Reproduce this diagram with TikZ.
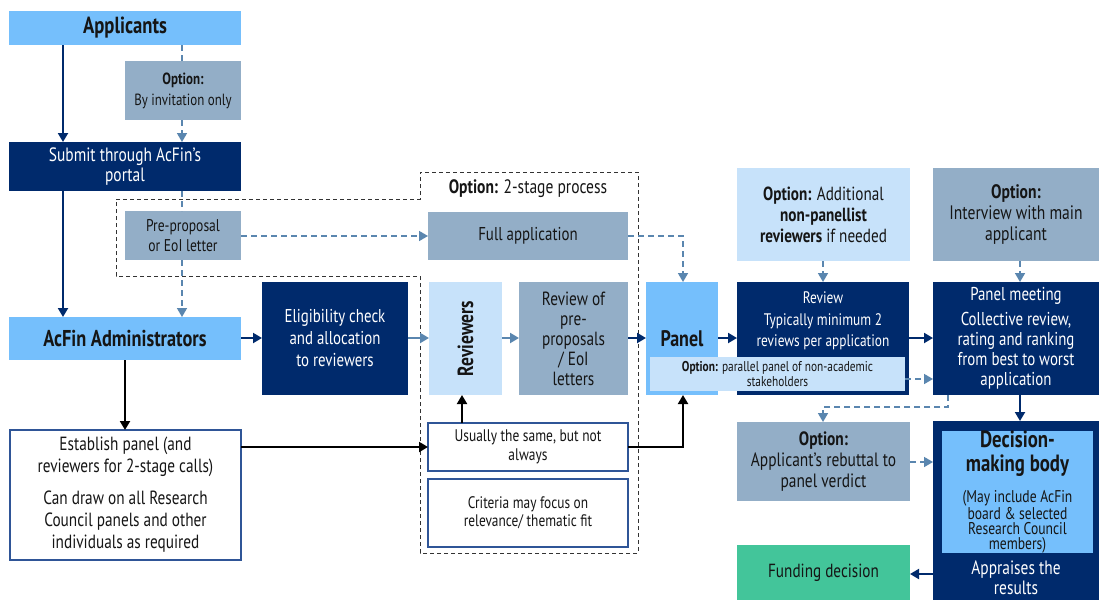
\documentclass[tikz,border=0pt]{standalone}
\usepackage{fontspec}
\setmainfont{PT Sans}[FakeStretch=0.80]
\usetikzlibrary{arrows.meta}
\definecolor{navy}{HTML}{002A6C}
\definecolor{lblue}{HTML}{75BFFC}
\definecolor{gblue}{HTML}{93AEC7}
\definecolor{pblue}{HTML}{C7E2FA}
\definecolor{steel}{HTML}{5A86AF}
\definecolor{fgreen}{HTML}{43C59A}
\definecolor{bord}{HTML}{2F5597}
\definecolor{ink}{HTML}{151515}
\tikzset{
  base/.style={inner sep=0pt, outer sep=0pt, align=center, text=ink, font=\fontsize{18}{21}\selectfont},
  navybox/.style={base, fill=navy, text=white},
  lbbox/.style={base, fill=lblue},
  gbbox/.style={base, fill=gblue},
  pbbox/.style={base, fill=pblue},
  wbox/.style={base, fill=white, draw=bord, line width=1.2pt},
  fbox/.style={base, fill=fgreen},
  tip/.style={-{Triangle[length=9pt,width=10pt]}},
  navyarrow/.style={draw=navy, line width=2pt, tip},
  steelarrow/.style={draw=steel, line width=2pt, tip},
  blackarrow/.style={draw=black, line width=2pt, tip},
  dashsteel/.style={draw=steel, line width=1.6pt, dash pattern=on 6pt off 4pt},
  dasharrow/.style={dashsteel, tip},
  outline/.style={draw=black!80, line width=1pt, dash pattern=on 4pt off 3pt},
}
\begin{document}
\begin{tikzpicture}[x=1pt,y=-1pt]
\useasboundingbox[fill=white] (0,0) rectangle (1099,600);
% dashed outline of the 2-stage option
\draw[outline] (116,199) -- (420,199) -- (420,172) -- (638,172) -- (638,553) -- (420,553) -- (420,276) -- (116,276) -- cycle;
\node[base, font=\fontsize{19.4}{22}\selectfont] (twostage) at (528,189) {\textbf{Option:} 2-stage process};

% left column
\node[lbbox, minimum width=232pt, minimum height=34pt, font=\bfseries\fontsize{23.3}{26}\selectfont] (app) at (125,28) {Applicants};
\node[gbbox, minimum width=116pt, minimum height=59pt, font=\fontsize{16.2}{21}\selectfont] (inv) at (183,90.5) {\textbf{Option:}\\By invitation only};
\node[navybox, minimum width=232pt, minimum height=49pt, font=\fontsize{19.3}{20}\selectfont] (sub) at (125,166.5) {Submit through AcFin’s\\portal};
\node[gbbox, minimum width=116pt, minimum height=49pt, font=\fontsize{17}{20}\selectfont] (pre) at (183,235.5) {Pre-proposal\\or EoI letter};
\node[lbbox, minimum width=232pt, minimum height=43pt, font=\bfseries\fontsize{22.9}{26}\selectfont] (adm) at (125,338.5) {AcFin Administrators};
\node[wbox, minimum width=231pt, minimum height=130pt, font=\fontsize{19.1}{22}\selectfont] (est) at (125.5,495) {Establish panel (and\\reviewers for 2-stage calls)\\[10pt]Can draw on all Research\\Council panels and other\\individuals as required};

% middle
\node[navybox, minimum width=146pt, minimum height=113pt, font=\fontsize{18.6}{22}\selectfont] (elig) at (335,338.5) {Eligibility check\\and allocation\\to reviewers};
\node[gbbox, minimum width=200pt, minimum height=48pt, font=\fontsize{18.6}{21}\selectfont] (full) at (528,236) {Full application};
\node[pbbox, minimum width=73pt, minimum height=113pt] (rev) at (465.5,338.5) {};
\node[base, rotate=90, font=\bfseries\fontsize{21.9}{24}\selectfont] (revtxt) at (rev.center) {Reviewers};
\node[gbbox, minimum width=109pt, minimum height=113pt, font=\fontsize{19.1}{20}\selectfont] (rpre) at (573.5,338.5) {Review of\\pre-\\proposals\\/ EoI\\letters};
\node[wbox, minimum width=200pt, minimum height=48pt, font=\fontsize{16.8}{19}\selectfont] (usu) at (528,447) {Usually the same, but not\\always};
\node[wbox, minimum width=200pt, minimum height=68pt, font=\fontsize{16.7}{18}\selectfont] (crit) at (528,513) {Criteria may focus on\\relevance/ thematic fit};

% panel and review
\node[lbbox, minimum width=72pt, minimum height=113pt, font=\bfseries\fontsize{22.5}{24}\selectfont] (panel) at (682,338.5) {Panel};
\node[navybox, minimum width=172pt, minimum height=113pt] (review) at (823,338.5) {};
\node[base, text=white, anchor=north, font=\fontsize{16.7}{21.5}\selectfont] (reviewtxt) at ([yshift=-10pt]review.north) {Review\\Typically minimum 2\\reviews per application};
\node[pbbox, minimum width=255pt, minimum height=34pt, font=\fontsize{14.2}{15}\selectfont] (par) at (777.5,374) {\textbf{Option:} parallel panel of non-academic\\stakeholders};
\node[pbbox, minimum width=173pt, minimum height=93pt, font=\fontsize{19}{21}\selectfont] (optadd) at (823.5,214.5) {\textbf{Option:} Additional\\\textbf{non-panellist}\\\textbf{reviewers} if needed};
\node[gbbox, minimum width=166pt, minimum height=93pt, font=\fontsize{19.5}{21}\selectfont] (optint) at (1016,214.5) {\textbf{Option:}\\Interview with main\\applicant};
\node[navybox, minimum width=166pt, minimum height=113pt, font=\fontsize{18.6}{20}\selectfont] (pm) at (1016,338.5) {Panel meeting\\[5pt]Collective review,\\rating and ranking\\from best to worst\\application};
\node[gbbox, minimum width=173pt, minimum height=79pt, font=\fontsize{19.3}{21}\selectfont] (reb) at (823.5,461.5) {\textbf{Option:}\\Applicant’s rebuttal to\\panel verdict};
\node[navybox, minimum width=166pt, minimum height=179pt] (dec) at (1016,510.5) {};
\node[lbbox, minimum width=151pt, minimum height=122pt, font=\fontsize{17}{15}\selectfont] (decin) at (1017.5,492) {\bfseries\fontsize{23.5}{15}\selectfont Decision-\\[6pt]\bfseries\fontsize{23.5}{15}\selectfont making body\\[13pt](May include AcFin\\board \& selected\\Research Council\\members)};
\node[base, text=white, font=\fontsize{19.3}{20}\selectfont] (appr) at (1016,578) {Appraises the\\results};
\node[fbox, minimum width=173pt, minimum height=55pt, font=\fontsize{19}{21}\selectfont] (fund) at (823.5,572.5) {Funding decision};

% reference columns and rows
\coordinate (cA) at (63,0);
\coordinate (cB) at (182,0);
\coordinate (cC) at (125,0);
\coordinate (cD) at (462,0);
\coordinate (cE) at (683,0);
\coordinate (cF) at (823,0);
\coordinate (cG) at (1020,0);
\coordinate (cH) at (948,0);
\coordinate (rMain) at (0,338);
\coordinate (rPre) at (0,236);
\coordinate (rUsu) at (0,447);
\coordinate (rPar) at (0,379);
\coordinate (rReb) at (0,462);
\coordinate (rFund) at (0,574);
\coordinate (rDash) at (0,407);

% connectors
\draw[navyarrow] (cA |- app.south) -- (cA |- sub.north);
\draw[dashsteel] (cB |- app.south) -- (cB |- inv.north);
\draw[dasharrow] (cB |- inv.south) -- (cB |- sub.north);
\draw[navyarrow] (cA |- sub.south) -- (cA |- adm.north);
\draw[dashsteel] (cB |- sub.south) -- (cB |- pre.north);
\draw[dasharrow] (cB |- pre.south) -- (cB |- adm.north);
\draw[dasharrow] (pre.east |- rPre) -- (full.west |- rPre);
\draw[dasharrow] (full.east |- rPre) -| (cE |- panel.north);
\draw[navyarrow] (adm.east |- rMain) -- (elig.west |- rMain);
\draw[steelarrow] (elig.east |- rMain) -- (rev.west |- rMain);
\draw[steelarrow] (rev.east |- rMain) -- (rpre.west |- rMain);
\draw[navyarrow] (rpre.east |- rMain) -- (panel.west |- rMain);
\draw[navyarrow] (panel.east |- rMain) -- (review.west |- rMain);
\draw[navyarrow] (review.east |- rMain) -- (pm.west |- rMain);
\draw[dasharrow] (optadd.south -| cF) -- (review.north -| cF);
\draw[dasharrow] (optint.south -| cG) -- (pm.north -| cG);
\draw[dasharrow] (par.east |- rPar) -- (pm.west |- rPar);
\draw[dasharrow] (pm.south -| cH) |- (rDash -| cF) -- (reb.north -| cF);
\draw[navyarrow] (pm.south -| cG) -- (dec.north -| cG);
\draw[dasharrow] (reb.east |- rReb) -- (dec.west |- rReb);
\draw[navyarrow] (dec.west |- rFund) -- (fund.east |- rFund);
\draw[blackarrow] (adm.south -| cC) -- (est.north -| cC);
\draw[blackarrow] (est.east |- rUsu) -- (usu.west |- rUsu);
\draw[blackarrow] (usu.north -| cD) -- (rev.south -| cD);
\draw[blackarrow] (usu.east |- rUsu) -| (cE |- panel.south);
\end{tikzpicture}
\end{document}
